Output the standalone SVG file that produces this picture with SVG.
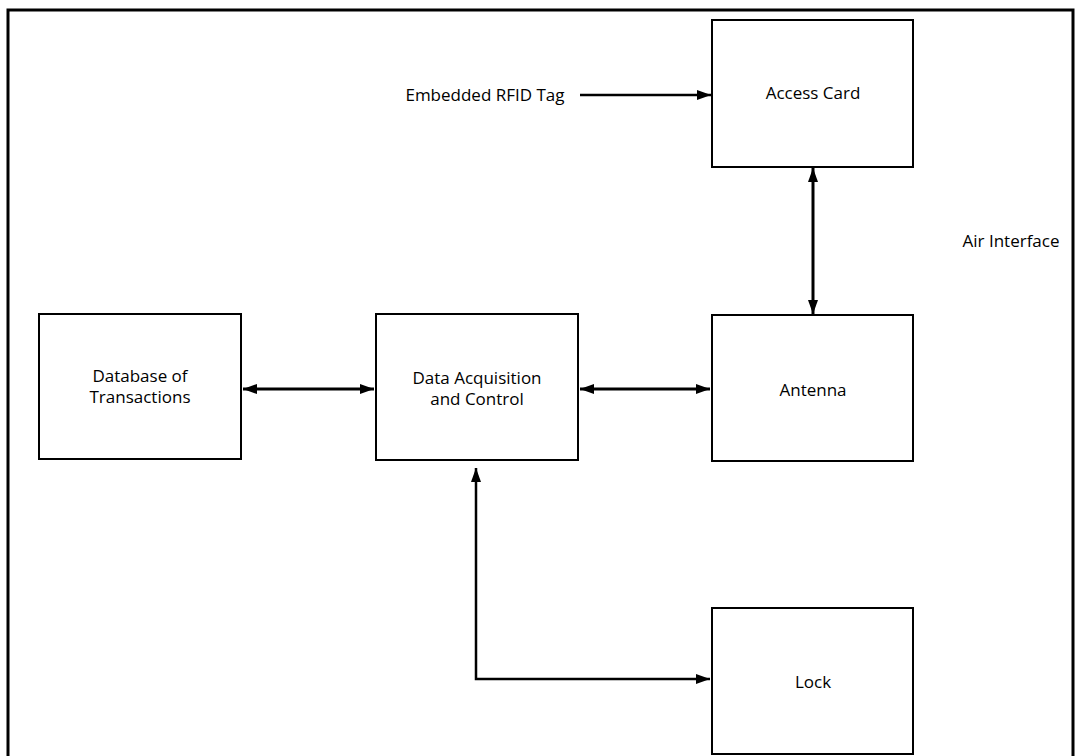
<svg xmlns="http://www.w3.org/2000/svg" width="1078" height="756" viewBox="0 0 1078 756">
<defs>
<style>
.box{fill:#fff;stroke:#000;stroke-width:2}
.lbl{font-family:"Open Sans","Liberation Sans",sans-serif;font-size:17px;fill:#000;text-anchor:middle}
.conn{fill:none;stroke:#000;stroke-width:3}
.thin{fill:none;stroke:#000;stroke-width:2.5}
</style>
<marker id="ah" viewBox="0 0 14 10" refX="14" refY="5" markerWidth="14" markerHeight="10" markerUnits="userSpaceOnUse" orient="auto-start-reverse">
<path d="M0,0 L14,5 L0,10 z" fill="#000"/>
</marker>
</defs>
<rect width="1078" height="756" fill="#fff"/>
<path d="M8,760 L8,10 L1073,10 L1073,760" fill="none" stroke="#000" stroke-width="3"/>
<g id="access-card"><rect class="box" x="712" y="20" width="201" height="147"/><text class="lbl" x="813" y="99">Access Card</text></g>
<g id="antenna"><rect class="box" x="712" y="315" width="201" height="146"/><text class="lbl" x="813" y="396">Antenna</text></g>
<g id="database"><rect class="box" x="39" y="314" width="202" height="145"/><text class="lbl" x="140" y="382">Database of</text><text class="lbl" x="140" y="403">Transactions</text></g>
<g id="dac"><rect class="box" x="376" y="314" width="202" height="146"/><text class="lbl" x="477" y="384">Data Acquisition</text><text class="lbl" x="477" y="405">and Control</text></g>
<g id="lock"><rect class="box" x="712" y="608" width="201" height="146"/><text class="lbl" x="813" y="688">Lock</text></g>
<g id="label-tag"><text class="lbl" x="485" y="101">Embedded RFID Tag</text></g>
<g id="label-air"><text class="lbl" x="1011" y="247">Air Interface</text></g>
<g id="connectors">
<line class="thin" x1="580" y1="95" x2="711" y2="95" marker-end="url(#ah)"/>
<line class="conn" x1="813" y1="168" x2="813" y2="314" marker-start="url(#ah)" marker-end="url(#ah)"/>
<line class="conn" x1="243" y1="389" x2="374" y2="389" marker-start="url(#ah)" marker-end="url(#ah)"/>
<line class="conn" x1="580" y1="389" x2="710" y2="389" marker-start="url(#ah)" marker-end="url(#ah)"/>
<polyline class="thin" points="476,468 476,679 710,679" marker-start="url(#ah)" marker-end="url(#ah)"/>
</g>
</svg>
